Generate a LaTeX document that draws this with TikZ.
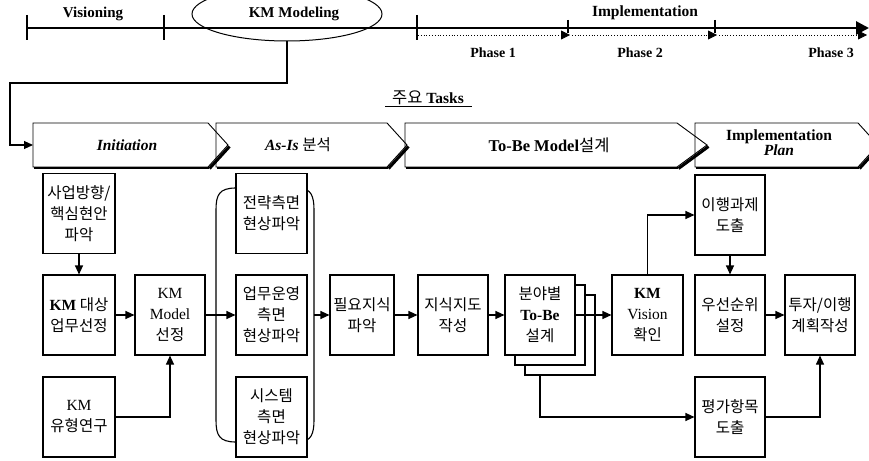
\documentclass[tikz,border=0pt]{standalone}
\usepackage{fontspec}
\setmainfont{Liberation Serif}
\newfontfamily\kor{Noto Sans CJK KR}
\usetikzlibrary{arrows.meta,shapes.geometric}
\begin{document}
\begin{tikzpicture}[x=1pt,y=-1pt,
  box/.style={draw, line width=1.1pt, minimum width=72pt, minimum height=80pt, inner sep=0pt, align=center, fill=white, font=\kor\fontsize{15.5}{21}\selectfont},
  conn/.style={line width=1.1pt, -{Triangle[length=9pt,width=8pt]}},
  lnk/.style={line width=1.1pt},
  chev/.style={line width=0.9pt},
  chevsh/.style={line width=3pt},
  tl/.style={font=\fontsize{15}{18}\selectfont\bfseries, inner sep=0pt},
  chtxt/.style={font=\fontsize{15.5}{17}\selectfont\bfseries, align=center, inner sep=0pt}]
\useasboundingbox (0,0) rectangle (869,460);

% ---- timeline ----
\draw[line width=2.8pt, -{Triangle[length=13pt,width=13pt]}] (27,28) -- (869,28);
\foreach \x in {27,164,417} \draw[line width=2.5pt] (\x,15) -- (\x,40);
\draw[line width=0.8pt, dotted, -{Triangle[length=9pt,width=9pt]}] (418,35) -- (570,35);
\draw[line width=0.8pt, dotted, -{Triangle[length=9pt,width=9pt]}] (572,35) -- (717,35);
\draw[line width=0.8pt, dotted, -{Triangle[length=9pt,width=9pt]}] (719,35) -- (867,35);
\draw[line width=1.3pt] (568,20) -- (568,33);
\draw[line width=1.3pt] (715,20) -- (715,33);
\node[tl] (vis) at (93,14) {Visioning};
\node[draw, line width=1pt, ellipse, minimum width=190pt, minimum height=54pt] (km) at (287,14) {};
\node[tl] (kmt) at (294,14) {KM Modeling};
\node[tl, font=\fontsize{15.5}{18}\selectfont\bfseries] (impl) at (645,13) {Implementation};
\node[tl, font=\fontsize{14}{16}\selectfont\bfseries] (p1) at (493,53) {Phase 1};
\node[tl, font=\fontsize{14}{16}\selectfont\bfseries] (p2) at (640,53) {Phase 2};
\node[tl, font=\fontsize{14}{16}\selectfont\bfseries] (p3) at (831,53) {Phase 3};

% ---- Tasks title ----
\node[inner sep=0pt, font=\fontsize{15.5}{17}\selectfont\bfseries] (tasks) at (428,98) {{\kor\mdseries\fontsize{16.5}{17}\selectfont 주요} Tasks};
\draw[line width=1pt] (385,106) -- (472,106);

% ---- chevrons ----
\draw[chev] (33,123) -- (208,123) -- (228,145) -- (208,167) -- (33,167) -- cycle;
\draw[chevsh] (229.5,146.5) -- (209.5,168.5);
\draw[line width=2pt] (34,168) -- (209,168);
\draw[chev] (216,123) -- (387,123) -- (407,145) -- (387,167) -- (216,167) -- cycle;
\draw[chevsh] (408.5,146.5) -- (388.5,168.5);
\draw[line width=2pt] (217,168) -- (388,168);
\draw[chev] (405,123) -- (677,123) -- (707,145) -- (677,167) -- (405,167) -- cycle;
\draw[chevsh] (708.5,146.5) -- (678.5,168.5);
\draw[line width=2pt] (406,168) -- (678,168);
\draw[chev] (695,123) -- (858,123) -- (878,145) -- (858,167) -- (695,167) -- cycle;
\draw[chevsh] (879.5,146.5) -- (859.5,168.5);
\draw[line width=2pt] (696,168) -- (859,168);
\node[chtxt] (t1) at (127,145) {\itshape Initiation};
\node[chtxt] (t2) at (298,145) {\itshape As-Is {\kor\upshape\mdseries 분석}};
\node[chtxt, font=\fontsize{16.5}{17}\selectfont\bfseries] (t3) at (549,145) {To-Be Model{\kor\mdseries 설계}};
\node[chtxt, font=\fontsize{15.5}{15}\selectfont\bfseries] (t4) at (779,143) {Implementation\\\itshape Plan};
\coordinate (c1w) at (33,145);
\coordinate (turn) at (10,83);
\draw[conn] (km.south) |- (turn) |- (c1w);

% ---- boxes ----
\node[box] (b1) at (79,213.5) {사업방향/\\핵심현안\\파악};
\node[box] (b2) at (79,315) {{\rmfamily\bfseries KM} 대상\\업무선정};
\node[box, minimum width=70pt] (b3) at (170,315) {{\rmfamily KM}\\{\rmfamily Model}\\선정};
\node[box] (b4) at (79,417) {{\rmfamily KM}\\유형연구};

\draw[lnk] (236,188) .. controls (219,188) and (216,195) .. (216,210) -- (216,420) .. controls (216,435) and (219,442) .. (236,442);
\draw[lnk] (300,188) .. controls (311,189) and (314,196) .. (314,210) -- (314,420) .. controls (314,434) and (311,441) .. (300,442);
\node[box, minimum width=71pt] (c1) at (271.5,213.5) {전략측면\\현상파악};
\node[box, minimum width=71pt] (c2) at (271.5,315) {업무운영\\측면\\현상파악};
\node[box, minimum width=71pt] (c3) at (271.5,417) {시스템\\측면\\현상파악};
\coordinate (brR) at (314,315);

\node[box, minimum width=64pt] (d1) at (362,315) {필요지식\\파악};
\node[box, minimum width=70pt] (d2) at (453,315) {지식지도\\작성};

\node[box, minimum width=70pt] (e3) at (560,335) {};
\node[box, minimum width=70pt] (e2) at (550,325) {};
\node[box, minimum width=70pt] (e) at (540,315) {분야별\\{\rmfamily\bfseries To-Be}\\설계};

\node[box, minimum width=71pt] (f) at (647.5,315) {{\rmfamily\bfseries KM}\\{\rmfamily Vision}\\확인};
\node[box, minimum width=70pt] (g1) at (730,215) {이행과제\\도출};
\node[box, minimum width=70pt] (g2) at (730,315) {우선순위\\설정};
\node[box, minimum width=70pt] (g3) at (730,417) {평가항목\\도출};
\node[box, minimum width=70pt] (h) at (820,315) {투자/이행\\계획작성};

% ---- connectors ----
\draw[conn] (b1) -- (b2);
\draw[conn] (b2) -- (b3);
\draw[conn] (b4.east) -| (b3.south);
\draw[conn] (b3) -- (c2);
\draw[conn] (brR) -- (d1.west);
\draw[conn] (d1) -- (d2);
\draw[conn] (d2) -- (e);
\draw[conn] (e.east) -- (f.west);
\draw[conn] (e3.south -| e.south) |- (g3.west);
\draw[conn] (f.north) |- (g1.west);
\draw[conn] (g1) -- (g2);
\draw[conn] (g2) -- (h);
\draw[conn] (g3.east) -| (h.south);
\end{tikzpicture}
\end{document}
